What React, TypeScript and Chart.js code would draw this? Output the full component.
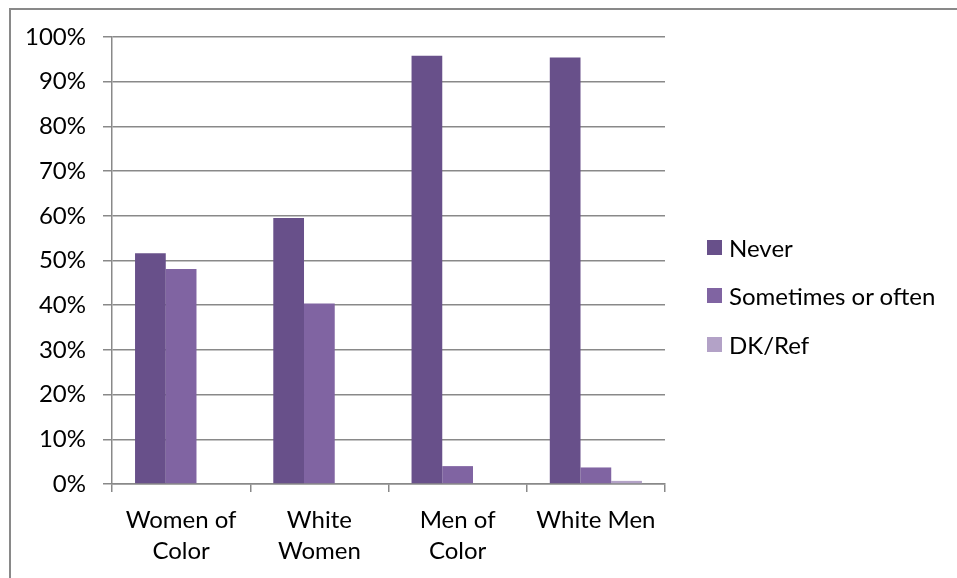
import React, { useEffect, useRef } from "react";
import { Chart, registerables } from "chart.js";

Chart.register(...registerables);

const categories: (string | string[])[] = [
  ["Women of", "Color"],
  ["White", "Women"],
  ["Men of", "Color"],
  "White Men",
];
const never = [51.6, 59.5, 95.8, 95.4];
const sometimesOrOften = [48.1, 40.4, 4.0, 3.7];
const dkRef = [0, 0, 0, 0.7];
const yTicks = [0, 10, 20, 30, 40, 50, 60, 70, 80, 90, 100];

const seriesNames = ["Never", "Sometimes or often", "DK/Ref"];
const seriesColors = ["#68508a", "#8064a2", "#b3a2c7"];

const FONT = "Lato, 'Open Sans', sans-serif";
const FONT_SIZE = 24;
const GRID = "#898989";

export default function App() {
  const canvasRef = useRef<HTMLCanvasElement | null>(null);

  useEffect(() => {
    const canvas = canvasRef.current;
    if (!canvas) return;
    const chart = new Chart(canvas, {
      type: "bar",
      data: {
        labels: categories,
        datasets: [never, sometimesOrOften, dkRef].map((values, i) => ({
          label: seriesNames[i],
          data: values,
          backgroundColor: seriesColors[i],
          borderWidth: 0,
          categoryPercentage: 3 / 4.5,
          barPercentage: 1,
        })),
      },
      options: {
        animation: false,
        responsive: false,
        maintainAspectRatio: false,
        layout: { padding: { left: 0, right: 292, top: 37, bottom: 0 } },
        plugins: {
          legend: { display: false },
          tooltip: { enabled: false },
        },
        scales: {
          x: {
            offset: true,
            grid: {
              display: true,
              drawOnChartArea: false,
              drawTicks: true,
              tickLength: 8,
              color: GRID,
              lineWidth: 1.5,
              offset: true,
            },
            border: { display: true, color: GRID, width: 1.5 },
            ticks: {
              color: "#000",
              font: { family: FONT, size: FONT_SIZE, lineHeight: 1.32 },
              padding: 12,
              maxRotation: 0,
              autoSkip: false,
            },
            afterFit: (scale: any) => {
              scale.height = 94;
            },
          },
          y: {
            min: 0,
            max: 100,
            afterBuildTicks: (scale: any) => {
              scale.ticks = yTicks.map((v) => ({ value: v }));
            },
            grid: {
              color: GRID,
              lineWidth: 1.5,
              drawTicks: true,
              tickLength: 9,
            },
            border: { display: true, color: GRID, width: 1.5 },
            ticks: {
              color: "#000",
              font: { family: FONT, size: FONT_SIZE },
              padding: 17,
              callback: (v: any) => `${v}%`,
            },
            afterFit: (scale: any) => {
              scale.width = 112;
            },
          },
        },
      },
    });
    return () => chart.destroy();
  }, []);

  return (
    <div
      style={{
        position: "absolute",
        left: 0,
        top: 0,
        width: 957,
        height: 578,
        overflow: "hidden",
        background: "#fff",
      }}
    >
      <div
        style={{
          position: "absolute",
          left: 9,
          top: 8,
          width: 1000,
          height: 700,
          borderLeft: `2px solid ${GRID}`,
          borderTop: `2px solid ${GRID}`,
          boxSizing: "border-box",
        }}
      />
      <canvas
        ref={canvasRef}
        width={957}
        height={578}
        style={{ position: "absolute", left: 0, top: 0, width: 957, height: 578 }}
      />
      <div
        style={{
          position: "absolute",
          left: 707,
          top: 223,
          fontFamily: FONT,
          fontSize: FONT_SIZE,
          color: "#000",
        }}
      >
        {seriesNames.map((name, i) => (
          <div
            key={name}
            style={{ display: "flex", alignItems: "center", height: 48.5, whiteSpace: "nowrap" }}
          >
            <span
              style={{
                display: "inline-block",
                width: 15,
                height: 15,
                background: seriesColors[i],
                marginRight: 7,
              }}
            />
            <span>{name}</span>
          </div>
        ))}
      </div>
    </div>
  );
}
